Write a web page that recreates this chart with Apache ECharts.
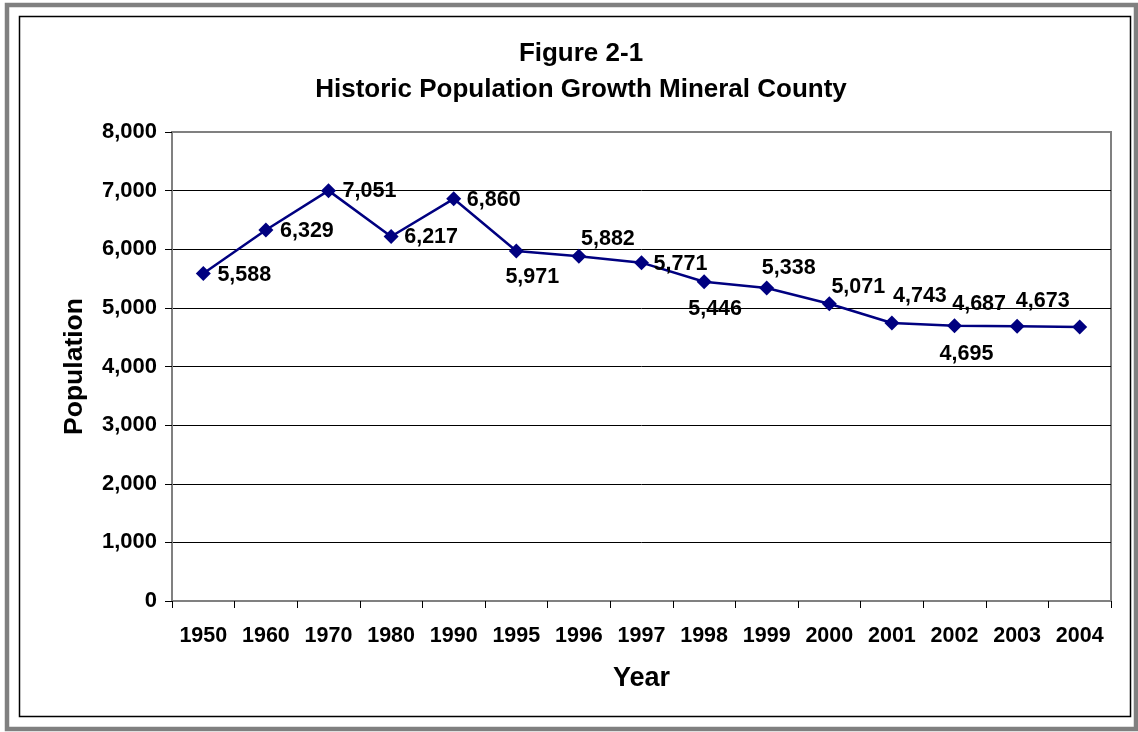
<!DOCTYPE html>
<html>
<head>
<meta charset="utf-8">
<script src="https://cdn.jsdelivr.net/npm/echarts@6/dist/echarts.min.js"></script>
<style>
  html, body { margin: 0; padding: 0; background: #fff; }
  #chart { width: 1138px; height: 732px; }
</style>
</head>
<body>
<div id="chart"></div>
<script>
  // data
  var years = ['1950', '1960', '1970', '1980', '1990', '1995', '1996', '1997', '1998', '1999', '2000', '2001', '2002', '2003', '2004'];
  var population = [5588, 6329, 7000, 6217, 6860, 5971, 5882, 5771, 5446, 5338, 5071, 4743, 4695, 4687, 4673];
  var labelText = ['5,588', '6,329', '7,051', '6,217', '6,860', '5,971', '5,882', '5,771', '5,446', '5,338', '5,071', '4,743', '4,695', '4,687', '4,673'];
  var yTicks = [0, 1000, 2000, 3000, 4000, 5000, 6000, 7000, 8000];

  // where each data label sits relative to its point (px)
  var labelOffsets = [
    [41, 2], [41, 1], [41, 0], [40, 1], [40, 1], [16, 26], [29, -17], [39, 1],
    [11, 27], [22, -20], [29, -17], [28, -27], [12, 28], [-38, -22], [-37, -26]
  ];

  var font = '"Liberation Sans", Arial, sans-serif';
  var chart = echarts.init(document.getElementById('chart'), null, { renderer: 'canvas' });

  var seriesData = population.map(function (v, i) {
    return {
      value: v,
      label: { offset: labelOffsets[i] }
    };
  });

  var gridColors = yTicks.map(function (t, i) {
    return (i === 0 || i === yTicks.length - 1) ? '#808080' : '#000000';
  });

  chart.setOption({
    animation: false,
    backgroundColor: '#ffffff',
    title: {
      text: 'Figure 2-1\nHistoric Population Growth Mineral County',
      left: 576,
      top: 31,
      textAlign: 'center',
      textStyle: {
        fontFamily: font,
        fontWeight: 'bold',
        fontSize: 26,
        lineHeight: 36,
        color: '#000'
      }
    },
    graphic: [
      {
        type: 'rect',
        shape: { x: 7, y: 5, width: 1129, height: 724 },
        style: { fill: null, stroke: '#808080', lineWidth: 4.5 },
        silent: true
      },
      {
        type: 'rect',
        shape: { x: 19.5, y: 16.5, width: 1111, height: 700 },
        style: { fill: null, stroke: '#000', lineWidth: 1.5 },
        silent: true
      }
    ],
    grid: {
      left: 172,
      top: 132,
      right: 27,
      bottom: 131,
      show: true,
      borderColor: '#808080',
      borderWidth: 2,
      backgroundColor: '#fff'
    },
    xAxis: {
      type: 'category',
      data: years,
      boundaryGap: true,
      name: 'Year',
      nameLocation: 'middle',
      nameGap: 64,
      nameTextStyle: { fontFamily: font, fontWeight: 'bold', fontSize: 27, color: '#000' },
      axisLine: { show: true, lineStyle: { color: '#808080', width: 2 } },
      axisTick: { show: true, length: 7, lineStyle: { color: '#000', width: 1 } },
      axisLabel: { margin: 24, fontFamily: font, fontWeight: 'bold', fontSize: 21.5, color: '#000' },
      splitLine: { show: false }
    },
    yAxis: {
      type: 'value',
      min: 0,
      max: 8000,
      interval: 1000,
      name: 'Population',
      nameLocation: 'middle',
      nameGap: 84,
      nameTextStyle: { fontFamily: font, fontWeight: 'bold', fontSize: 26.5, color: '#000' },
      axisLine: { show: true, lineStyle: { color: '#808080', width: 2 } },
      axisTick: { show: true, length: 7, inside: false, lineStyle: { color: '#000', width: 1 } },
      axisLabel: {
        margin: 15,
        fontFamily: font,
        fontWeight: 'bold',
        fontSize: 22,
        color: '#000',
        formatter: function (v) { return v.toLocaleString('en-US'); }
      },
      splitLine: { show: true, lineStyle: { color: gridColors, width: 1 } }
    },
    series: [{
      type: 'line',
      data: seriesData,
      symbol: 'diamond',
      symbolSize: 15,
      lineStyle: { color: '#000080', width: 2.5 },
      itemStyle: { color: '#000080' },
      label: {
        show: true,
        position: 'inside',
        fontFamily: font,
        fontWeight: 'bold',
        fontSize: 21.5,
        color: '#000',
        formatter: function (p) { return labelText[p.dataIndex]; }
      }
    }]
  });
</script>
</body>
</html>
